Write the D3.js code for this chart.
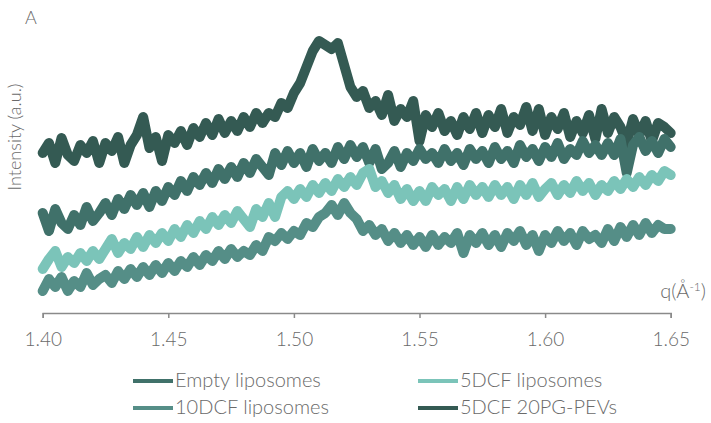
<!DOCTYPE html>
<html>
<head>
<meta charset="utf-8">
<script src="https://cdn.jsdelivr.net/npm/d3@7"></script>
<style>
  html, body { margin: 0; padding: 0; background: #fff; }
  svg { display: block; font-family: "Lato", "Open Sans", sans-serif; font-weight: 300; }
</style>
</head>
<body>
<div id="mychart"></div>
<script>
// q grid (Å^-1), 0.0025 steps from 1.40 to 1.65
const q = d3.range(0, 101).map(i => +(1.40 + i * 0.0025).toFixed(4));

const pevs = [
  160,170,150,175,158,152,168,160,172,150,
  170,162,176,150,168,178,196,165,176,152,
  178,170,182,168,185,176,190,178,194,180,
  192,182,196,186,200,190,200,196,210,205,
  220,230,246,262,272,268,264,270,248,226,
  216,222,205,212,198,218,192,204,196,212,
  172,198,186,200,182,192,178,196,184,200,
  180,198,186,204,180,196,188,206,182,204,
  178,196,184,200,176,192,180,198,174,204,
  180,196,186,170,194,178,192,172,190,186,
  180];

const empty = [
  100,82,104,90,84,98,88,106,92,100,
  110,98,114,104,118,108,120,106,122,112,
  126,118,132,122,136,128,140,130,144,134,
  146,136,150,140,154,146,138,160,148,162,
  150,160,146,164,152,160,150,166,154,168,
  156,166,150,164,144,150,162,146,160,152,
  164,154,160,150,164,152,160,148,164,154,
  162,150,166,154,162,150,168,156,164,152,
  166,156,170,154,164,158,172,160,168,158,
  170,158,174,140,168,176,162,172,160,174,
  166];

const dcf5 = [
  44,54,62,46,56,50,60,52,62,54,
  64,74,60,70,64,76,66,78,70,80,
  72,84,76,88,80,92,84,96,88,98,
  90,102,94,86,104,96,110,96,116,122,
  114,124,116,128,120,130,122,134,126,136,
  128,140,144,126,132,120,128,114,124,112,
  122,112,126,118,124,112,126,114,128,118,
  126,116,128,118,126,114,128,118,130,116,
  124,130,118,128,120,132,122,130,118,128,
  122,132,124,134,126,136,128,138,132,142,
  138];

const dcf10 = [
  22,34,26,36,22,32,26,40,28,34,
  38,30,42,34,44,36,46,38,48,40,
  50,42,52,46,56,48,58,52,62,54,
  64,56,62,58,68,62,76,72,80,74,
  82,78,90,86,96,100,108,98,110,100,
  94,82,88,78,84,72,80,70,78,68,
  76,66,78,68,76,70,80,60,78,70,
  80,68,78,66,80,72,82,68,78,62,
  78,70,82,72,80,68,82,74,78,70,
  84,72,86,76,88,78,90,80,88,84,
  84];

const xTicks = [1.40, 1.45, 1.50, 1.55, 1.60, 1.65];

const colors = {
  "5DCF 20PG-PEVs": "#345a53",
  "Empty liposomes": "#40716a",
  "5DCF liposomes": "#7bc4b9",
  "10DCF liposomes": "#558e87"
};

const series = [
  { name: "5DCF 20PG-PEVs", values: pevs },
  { name: "Empty liposomes", values: empty },
  { name: "5DCF liposomes", values: dcf5 },
  { name: "10DCF liposomes", values: dcf10 }
];

const width = 711;
const height = 423;

const x = d3.scaleLinear().domain([1.40, 1.65]).range([42.7, 670.7]);
const y = d3.scaleLinear().domain([0, 300]).range([313, 13]);

const svg = d3.select("#mychart")
  .append("svg")
    .attr("width", width)
    .attr("height", height)
    .attr("viewBox", [0, 0, width, height]);

const line = d3.line()
  .x((d, i) => x(q[i]))
  .y(d => y(d));

svg.append("g")
    .attr("fill", "none")
    .attr("stroke-width", 10)
    .attr("stroke-linecap", "round")
    .attr("stroke-linejoin", "round")
  .selectAll("path")
  .data(series)
  .join("path")
    .attr("stroke", d => colors[d.name])
    .attr("d", d => line(d.values));

// x axis
const xAxis = svg.append("g")
    .attr("transform", "translate(0,313)")
    .call(d3.axisBottom(x)
      .tickValues(xTicks)
      .tickFormat(d3.format(".2f"))
      .tickSize(5)
      .tickPadding(15));

xAxis.select(".domain").attr("stroke", "#8a8a8a").attr("stroke-width", 1.5);
xAxis.selectAll(".tick line").attr("stroke", "#8a8a8a").attr("stroke-width", 1.5);
xAxis.selectAll(".tick text")
    .attr("fill", "#6a6a6a")
    .attr("font-size", 19)
    .attr("font-family", "Lato, 'Open Sans', sans-serif")
    .attr("font-weight", 300);

// axis titles
svg.append("text")
    .attr("transform", "translate(21,137) rotate(-90)")
    .attr("text-anchor", "middle")
    .attr("fill", "#6a6a6a")
    .attr("font-size", 18)
    .text("Intensity (a.u.)");

const qLabel = svg.append("text")
    .attr("x", 706)
    .attr("y", 298)
    .attr("text-anchor", "end")
    .attr("fill", "#6a6a6a")
    .attr("font-size", 20);
qLabel.append("tspan").text("q(Å");
qLabel.append("tspan").attr("dy", -7).attr("font-size", 12).text("-1");
qLabel.append("tspan").attr("dy", 7).text(")");

svg.append("text")
    .attr("x", 25)
    .attr("y", 24)
    .attr("fill", "#6a6a6a")
    .attr("font-size", 18)
    .text("A");

// legend, column-major
const legendItems = [
  { name: "Empty liposomes", x: 133, y: 381 },
  { name: "10DCF liposomes", x: 133, y: 408 },
  { name: "5DCF liposomes", x: 418, y: 381 },
  { name: "5DCF 20PG-PEVs", x: 418, y: 408 }
];

const legend = svg.append("g")
  .selectAll("g")
  .data(legendItems)
  .join("g")
    .attr("transform", d => `translate(${d.x},${d.y})`);

legend.append("line")
    .attr("x1", 0).attr("x2", 40)
    .attr("stroke", d => colors[d.name])
    .attr("stroke-width", 4);

legend.append("text")
    .attr("x", 42)
    .attr("dy", "0.32em")
    .attr("fill", "#6a6a6a")
    .attr("font-size", 20)
    .text(d => d.name);
</script>
</body>
</html>
